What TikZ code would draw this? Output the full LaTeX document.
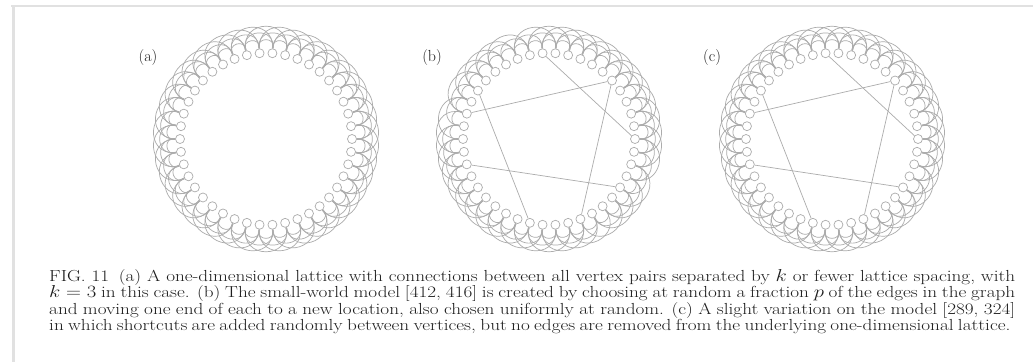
\documentclass[tikz,border=0pt]{standalone}
\usetikzlibrary{backgrounds}
\definecolor{lat}{RGB}{172,172,172}
\definecolor{framec}{RGB}{225,225,225}
\definecolor{txt}{RGB}{30,30,30}
\tikzset{
  vtx/.style={circle,draw=lat,fill=white,line width=0.7pt,inner sep=0pt,minimum size=9pt},
  lattice/.style={draw=lat,line width=0.7pt,bend right=101,looseness=2.1},
  shortcut/.style={draw=lat,line width=0.7pt},
  lbl/.style={font=\fontsize{16}{18}\selectfont,text=txt,inner sep=0pt},
  captxt/.style={font=\fontsize{16}{16.5}\selectfont,text=txt,anchor=base west,inner sep=0pt},
  framel/.style={draw=framec}
}
\newcommand{\capline}[2]{\scalebox{1.2}[1]{\makebox[#1][s]{#2}}}
\begin{document}
\begin{tikzpicture}[x=1pt,y=-1pt]
\useasboundingbox (0,0) rectangle (1033,362);
% vertices
\foreach \p/\cx in {a/266,b/549,c/832}{
  \foreach \i in {0,...,41}{
    \node[vtx] (\p\i) at ({\cx+86*cos(360/42*\i)},{139-86*sin(360/42*\i)}) {};
  }
}
\begin{pgfonlayer}{background}
\fill[white] (0,0) rectangle (1033,362);
\draw[framel,line width=1.5pt] (11,6) -- (1033,6);
\draw[framel,line width=3pt] (13,6) -- (13,362);
\foreach \p/\rw in {a/0,b/1,c/0}{
  \foreach \i in {0,...,41}{
    \foreach \d in {1,2,3}{
      \pgfmathtruncatemacro\j{mod(\i+\d,42)}
      \pgfmathtruncatemacro\key{\i*10+\d}
      \pgfmathtruncatemacro\skp{\rw*((\key==173)||(\key==192)||(\key==113)||(\key==342)||(\key==383))}
      \ifnum\skp=0
        \draw[lattice] (\p\i) to (\p\j);
      \fi
    }
  }
}
\foreach \p in {b,c}{
  \draw[shortcut] (\p17) -- (\p30);
  \draw[shortcut] (\p19) -- (\p5);
  \draw[shortcut] (\p11) -- (\p0);
  \draw[shortcut] (\p5) -- (\p34);
  \draw[shortcut] (\p23) -- (\p38);
}
\end{pgfonlayer}
% panel labels
\node[lbl] (la) at (148,58) {(a)};
\node[lbl] (lb) at (432,58) {(b)};
\node[lbl] (lc) at (712,58) {(c)};
% caption
\node[captxt] (cap1) at (49,281) {\capline{805pt}{FIG. 11\enspace (a) A one-dimensional lattice with connections between all vertex pairs separated by $k$ or fewer lattice spacing, with}};
\node[captxt] (cap2) at (49,297.5) {\capline{805pt}{$k=3$ in this case. (b) The small-world model [412, 416] is created by choosing at random a fraction $p$ of the edges in the graph}};
\node[captxt] (cap3) at (49,314) {\capline{805pt}{and moving one end of each to a new location, also chosen uniformly at random. (c) A slight variation on the model [289, 324]}};
\node[captxt] (cap4) at (49,330.5) {\capline{801pt}{in which shortcuts are added randomly between vertices, but no edges are removed from the underlying one-dimensional lattice.}};
\end{tikzpicture}
\end{document}
